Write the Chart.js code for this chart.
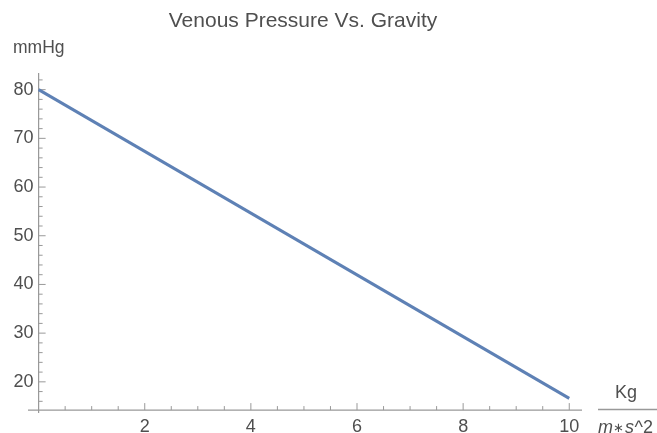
<!DOCTYPE html>
<html>
<head>
<meta charset="utf-8">
<script src="https://cdn.jsdelivr.net/npm/chart.js@4/dist/chart.umd.min.js"></script>
<style>
  html, body { margin: 0; padding: 0; background: #fff; }
  #wrap { width: 657px; height: 433px; }
</style>
</head>
<body>
<div id="wrap"><canvas id="c" width="657" height="433"></canvas></div>
<script>
// data
const gravity = [0, 10];
const pressure = [80, 16.6];

const xTicks = [2, 4, 6, 8, 10];
const yTicks = [20, 30, 40, 50, 60, 70, 80];
const xMinor = [0.5, 1, 1.5, 2.5, 3, 3.5, 4.5, 5, 5.5, 6.5, 7, 7.5, 8.5, 9, 9.5];
const yMinor = [16, 18, 22, 24, 26, 28, 32, 34, 36, 38, 42, 44, 46, 48, 52, 54, 56, 58, 62, 64, 66, 68, 72, 74, 76, 78, 82];

const axisOriginY = 14.2;
const textCol = "#4f4f4f";
const axisCol = "#999999";
const font = "Liberation Sans, Arial, sans-serif";

const axesPlugin = {
  id: "mmaAxes",
  beforeDatasetsDraw(chart) {
    const { ctx, chartArea, scales } = chart;
    const x = scales.x, y = scales.y;
    const ox = x.getPixelForValue(0);
    const oy = y.getPixelForValue(axisOriginY);
    ctx.save();
    ctx.strokeStyle = axisCol;
    ctx.lineWidth = 1.2;
    ctx.beginPath();
    ctx.moveTo(chartArea.left, oy);
    ctx.lineTo(chartArea.right, oy);
    ctx.moveTo(ox, chartArea.top);
    ctx.lineTo(ox, chartArea.bottom);
    ctx.stroke();

    // ticks pointing into the plot
    ctx.lineWidth = 1;
    ctx.beginPath();
    xTicks.forEach(v => { const p = x.getPixelForValue(v); ctx.moveTo(p, oy); ctx.lineTo(p, oy - 7); });
    xMinor.forEach(v => { const p = x.getPixelForValue(v); ctx.moveTo(p, oy); ctx.lineTo(p, oy - 4); });
    yTicks.forEach(v => { const p = y.getPixelForValue(v); ctx.moveTo(ox, p); ctx.lineTo(ox + 7, p); });
    yMinor.forEach(v => { const p = y.getPixelForValue(v); ctx.moveTo(ox, p); ctx.lineTo(ox + 4, p); });
    ctx.stroke();

    ctx.fillStyle = textCol;
    ctx.font = "18px " + font;
    ctx.textAlign = "right";
    ctx.textBaseline = "middle";
    yTicks.forEach(v => ctx.fillText(String(v), ox - 5, y.getPixelForValue(v)));
    ctx.textAlign = "center";
    ctx.textBaseline = "top";
    xTicks.forEach(v => ctx.fillText(String(v), x.getPixelForValue(v), oy + 8));

    // y unit
    ctx.textAlign = "left";
    ctx.textBaseline = "middle";
    ctx.font = "17.5px " + font;
    ctx.fillText("mmHg", 13, 48);

    // x unit as fraction
    ctx.textAlign = "center";
    ctx.font = "18px " + font;
    ctx.fillText("Kg", 626, 393);
    ctx.strokeStyle = axisCol;
    ctx.lineWidth = 1.5;
    ctx.beginPath();
    ctx.moveTo(598, 409.5);
    ctx.lineTo(657, 409.5);
    ctx.stroke();
    const parts = [["italic 18px ", "m"], ["13px ", "\u2217"], ["italic 18px ", "s"], ["18px ", "^2"]];
    let cx = 598;
    ctx.textAlign = "left";
    parts.forEach(([f, t]) => {
      ctx.font = f + font;
      ctx.fillText(t, cx, 428);
      cx += ctx.measureText(t).width + 0.5;
    });

    // title
    ctx.font = "21px " + font;
    ctx.textAlign = "center";
    ctx.fillText("Venous Pressure Vs. Gravity", 303, 21);
    ctx.restore();
  }
};

new Chart(document.getElementById("c").getContext("2d"), {
  type: "line",
  data: {
    datasets: [{
      data: gravity.map((g, i) => ({ x: g, y: pressure[i] })),
      borderColor: "#5E81B5",
      borderWidth: 3,
      pointRadius: 0,
      fill: false,
      tension: 0
    }]
  },
  options: {
    responsive: false,
    animation: false,
    layout: { padding: { left: 28, right: 75, top: 73, bottom: 20 } },
    plugins: { legend: { display: false }, title: { display: false }, tooltip: { enabled: false } },
    scales: {
      x: { type: "linear", min: -0.2, max: 10.24, display: false },
      y: { type: "linear", min: 13.6, max: 83.42, display: false }
    }
  },
  plugins: [axesPlugin]
});
</script>
</body>
</html>
